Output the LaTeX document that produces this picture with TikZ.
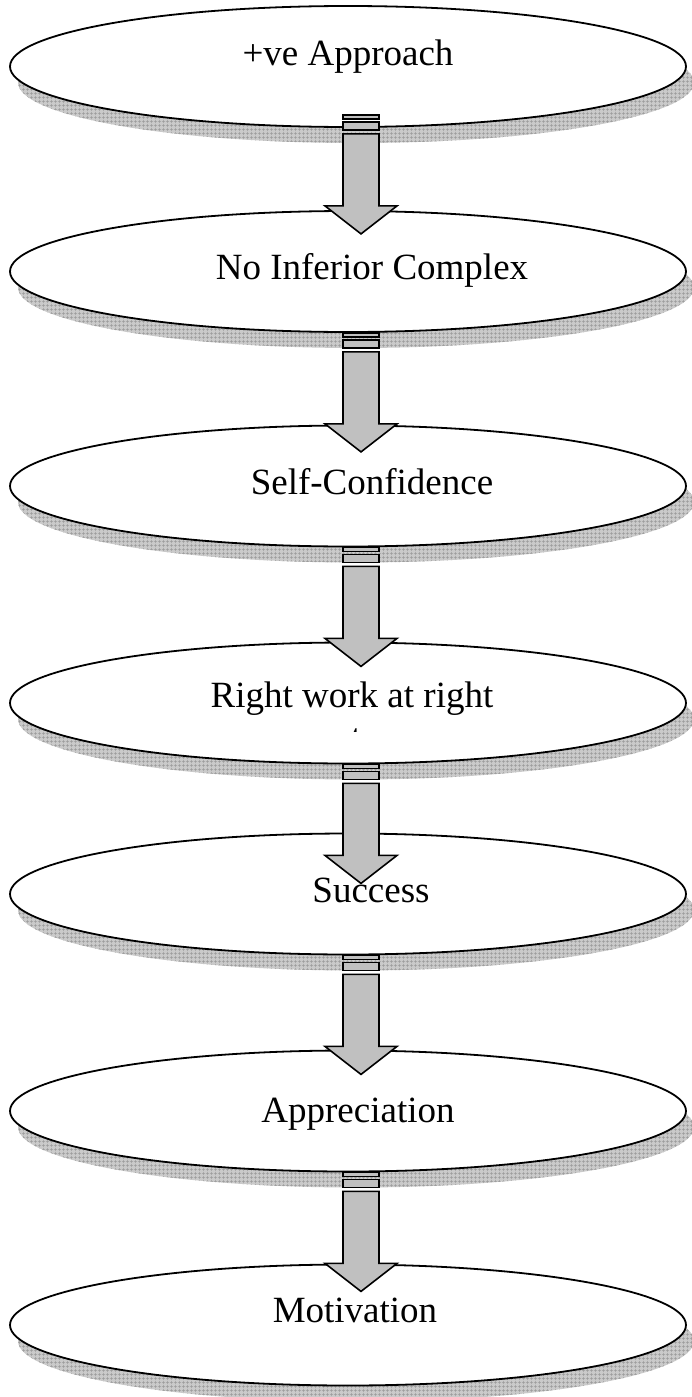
\documentclass[tikz,border=0pt]{standalone}
\usepackage{fontspec}
\setmainfont{Liberation Serif}
\usetikzlibrary{shapes.geometric,calc,patterns.meta}

\definecolor{shadefill}{HTML}{CACACA}
\definecolor{shadegrid}{HTML}{9A9A9A}
\definecolor{arrowfill}{HTML}{C0C0C0}

\tikzset{
  bubble/.style={ellipse, draw, line width=1.8pt, fill=white,
    minimum width=676pt, minimum height=121pt, inner sep=0pt,
    preaction={fill=shadefill, transform canvas={xshift=8pt,yshift=-16pt}},
    preaction={pattern={Hatch[angle=0,distance=4pt,line width=0.45pt]},
      pattern color=shadegrid, transform canvas={xshift=8pt,yshift=-16pt}}},
  bubbletext/.style={anchor=base, inner sep=0pt, font=\fontsize{37}{40}\selectfont},
  arrowbox/.style={draw, line width=1.6pt, fill=arrowfill, line join=miter},
  stripedarrow/.pic={
    \draw[arrowbox] (-18,0) rectangle (18,4);
    \draw[arrowbox] (-18,7) rectangle (18,15);
    \draw[arrowbox] (-18,19) -- (18,19) -- (18,91) -- (36,91) -- (0,119)
      -- (-36,91) -- (-18,91) -- cycle;
  }
}

\begin{document}
\begin{tikzpicture}[x=1pt, y=-1pt]
  \useasboundingbox (0,0) rectangle (692,1397);

  % Ellissi
  \node[bubble] (appr) at (348,66.5) {};
  \node[bubble] (infer) at (348,271.5) {};
  \node[bubble] (conf) at (348,486) {};
  \node[bubble] (rightw) at (348,703) {};
  \node[bubble] (succ) at (348,894) {};
  \node[bubble] (apprec) at (348,1111) {};
  \node[bubble] (motiv) at (348,1325) {};

  % Testi
  \node[bubbletext] (apprtxt) at (348,66) {+ve Approach};
  \node[bubbletext] (infertxt) at (372,279) {No Inferior Complex};
  \node[bubbletext] (conftxt) at (372,494) {Self-Confidence};
  \node[bubbletext] (rightwtxt) at (352,707) {Right work at right};
  \begin{scope}
    \clip (349,720) rectangle (362,731);
    \node[bubbletext, anchor=base west] (timetxt) at (351,749) {time};
  \end{scope}
  \node[bubbletext] (succtxt) at (371,902) {Success};
  \node[bubbletext] (apprectxt) at (358,1122) {Appreciation};
  \node[bubbletext] (motivtxt) at (355,1322) {Motivation};

  % Frecce
  \pic at ($(appr.south)+(13,-13)$) {stripedarrow};
  \pic at ($(infer.south)+(13,0)$) {stripedarrow};
  \pic at ($(conf.south)+(13,0)$) {stripedarrow};
  \pic at ($(rightw.south)+(13,0)$) {stripedarrow};
  \pic at ($(succ.south)+(13,0)$) {stripedarrow};
  \pic at ($(apprec.south)+(13,0)$) {stripedarrow};
\end{tikzpicture}
\end{document}
